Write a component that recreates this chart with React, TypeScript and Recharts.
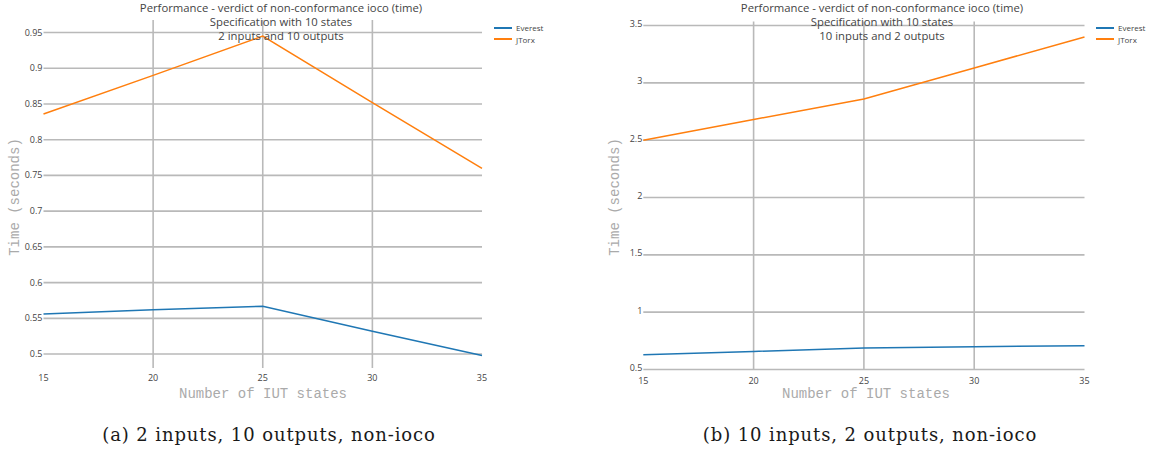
import { LineChart, Line, XAxis, YAxis, ReferenceLine } from "recharts";

// number of IUT states (x axis)
const STATES = [15, 20, 25, 30, 35];

// (a) 2 inputs, 10 outputs
const EVEREST_A = [0.556, 0.562, 0.567, 0.532, 0.498];
const JTORX_A = [0.836, 0.89, 0.945, 0.852, 0.76];

// (b) 10 inputs, 2 outputs
const EVEREST_B = [0.629, 0.658, 0.687, 0.699, 0.707];
const JTORX_B = [2.5, 2.68, 2.86, 3.13, 3.4];

const Y_TICKS_A = [0.5, 0.55, 0.6, 0.65, 0.7, 0.75, 0.8, 0.85, 0.9, 0.95];
const Y_TICKS_B = [0.5, 1, 1.5, 2, 2.5, 3, 3.5];

const SERIES = [
  { key: "everest", name: "Everest", color: "#1f77b4" },
  { key: "jtorx", name: "JTorx", color: "#ff7f0e" },
];

const TITLE = "Performance - verdict of non-conformance ioco (time)";
const SUBTITLE = "Specification with 10 states";

const buildRows = (ev: number[], jt: number[]) =>
  STATES.map((s, i) => ({ states: s, everest: ev[i], jtorx: jt[i] }));

const GRID = "#b9b9b9";
const SANS = "'Open Sans', 'Noto Sans', sans-serif";
const MONO = "'Liberation Mono', 'DejaVu Sans Mono', monospace";

const Y_AXIS_W = 40;
const X_AXIS_H = 20;

type PanelProps = {
  rows: { states: number; everest: number; jtorx: number }[];
  yTicks: number[];
  yDomain: [number, number];
  subtitle: string;
  caption: string;
  // plot area edges inside the 576px panel
  plot: { top: number; right: number; bottom: number; left: number };
  xTickGap: number;
  yTickLift: number;
  titleX: number;
  legendX: number;
  yTitleX: number;
  xTitleX: number;
  captionX: number;
};

// y tick label, lifted a little so the lowest one clears the x labels
const YTick = (props: any) => {
  const { x, y, payload, lift } = props;
  return (
    <text x={x} y={y - lift} textAnchor="end" dominantBaseline="central" fontSize={9} fill="#444" fontFamily={SANS}>
      {payload.value}
    </text>
  );
};

function Panel(p: PanelProps) {
  const innerX = STATES.slice(1, -1);
  const margin = {
    top: p.plot.top,
    right: 576 - p.plot.right,
    bottom: 451 - p.plot.bottom - X_AXIS_H,
    left: p.plot.left - Y_AXIS_W,
  };
  return (
    <div style={{ position: "relative", width: 576, height: 451 }}>
      <LineChart width={576} height={451} data={p.rows} margin={margin}>
        <XAxis
          dataKey="states"
          type="number"
          domain={[15, 35]}
          ticks={STATES}
          height={X_AXIS_H}
          axisLine={false}
          tickLine={false}
          tickSize={0}
          tickMargin={p.xTickGap}
          interval={0}
          tick={{ fontSize: 9, fill: "#444", fontFamily: SANS }}
        />
        <YAxis
          type="number"
          domain={p.yDomain}
          ticks={p.yTicks}
          width={Y_AXIS_W}
          axisLine={false}
          tickLine={false}
          tickSize={0}
          tickMargin={1}
          interval={0}
          allowDataOverflow
          tick={(props: any) => <YTick {...props} lift={p.yTickLift} />}
        />
        {p.yTicks.map((t) => (
          <ReferenceLine key={"h" + t} y={t} stroke={GRID} strokeWidth={1.6} />
        ))}
        {innerX.map((t) => (
          <ReferenceLine key={"v" + t} x={t} stroke={GRID} strokeWidth={1.6} />
        ))}
        {SERIES.map((s) => (
          <Line
            key={s.key}
            dataKey={s.key}
            name={s.name}
            stroke={s.color}
            strokeWidth={1.5}
            dot={false}
            isAnimationActive={false}
          />
        ))}
      </LineChart>

      {/* title */}
      <div
        style={{
          position: "absolute",
          left: p.titleX,
          top: 1,
          transform: "translateX(-50%)",
          textAlign: "center",
          whiteSpace: "nowrap",
          fontFamily: SANS,
          fontSize: 11.3,
          lineHeight: "14px",
          color: "#444",
        }}
      >
        <div>{TITLE}</div>
        <div>{SUBTITLE}</div>
        <div>{p.subtitle}</div>
      </div>

      {/* legend */}
      {SERIES.map((s, i) => (
        <div
          key={s.key}
          style={{
            position: "absolute",
            left: p.legendX,
            top: 22 + i * 11.6,
            display: "flex",
            alignItems: "center",
            fontFamily: SANS,
            fontSize: 8,
            lineHeight: "11px",
            color: "#444",
          }}
        >
          <span style={{ display: "inline-block", width: 18, height: 2, background: s.color, marginRight: 4 }} />
          {s.name}
        </div>
      ))}

      {/* axis titles */}
      <div
        style={{
          position: "absolute",
          left: p.yTitleX,
          top: 197,
          transform: "translate(-50%, -50%) rotate(-90deg)",
          whiteSpace: "nowrap",
          fontFamily: MONO,
          fontSize: 14,
          color: "#aaa",
        }}
      >
        Time (seconds)
      </div>
      <div
        style={{
          position: "absolute",
          left: p.xTitleX,
          top: 394,
          transform: "translate(-50%, -50%)",
          whiteSpace: "nowrap",
          fontFamily: MONO,
          fontSize: 14,
          color: "#aaa",
        }}
      >
        Number of IUT states
      </div>

      {/* caption */}
      <div
        style={{
          position: "absolute",
          left: p.captionX,
          top: 434,
          transform: "translate(-50%, -50%)",
          whiteSpace: "nowrap",
          fontFamily: "'DejaVu Serif', serif",
          fontSize: 18,
          letterSpacing: 0.9,
          color: "#1a1a1a",
        }}
      >
        {p.caption}
      </div>
    </div>
  );
}

export default function App() {
  return (
    <div
      style={{
        position: "absolute",
        left: 0,
        top: 0,
        width: 1152,
        height: 451,
        background: "#fff",
        display: "flex",
      }}
    >
      <Panel
        rows={buildRows(EVEREST_A, JTORX_A)}
        yTicks={Y_TICKS_A}
        yDomain={[0.4805, 0.9675]}
        subtitle="2 inputs and 10 outputs"
        caption="(a) 2 inputs, 10 outputs, non-ioco"
        plot={{ top: 20, right: 482, bottom: 368, left: 43.5 }}
        xTickGap={7}
        yTickLift={0.5}
        titleX={281}
        legendX={494}
        yTitleX={15}
        xTitleX={263}
        captionX={269}
      />
      <Panel
        rows={buildRows(EVEREST_B, JTORX_B)}
        yTicks={Y_TICKS_B}
        yDomain={[0.5, 3.535]}
        subtitle="10 inputs and 2 outputs"
        caption="(b) 10 inputs, 2 outputs, non-ioco"
        plot={{ top: 21.5, right: 508.5, bottom: 369.5, left: 67.3 }}
        xTickGap={8}
        yTickLift={2}
        titleX={306}
        legendX={520}
        yTitleX={39}
        xTitleX={290}
        captionX={294}
      />
    </div>
  );
}
